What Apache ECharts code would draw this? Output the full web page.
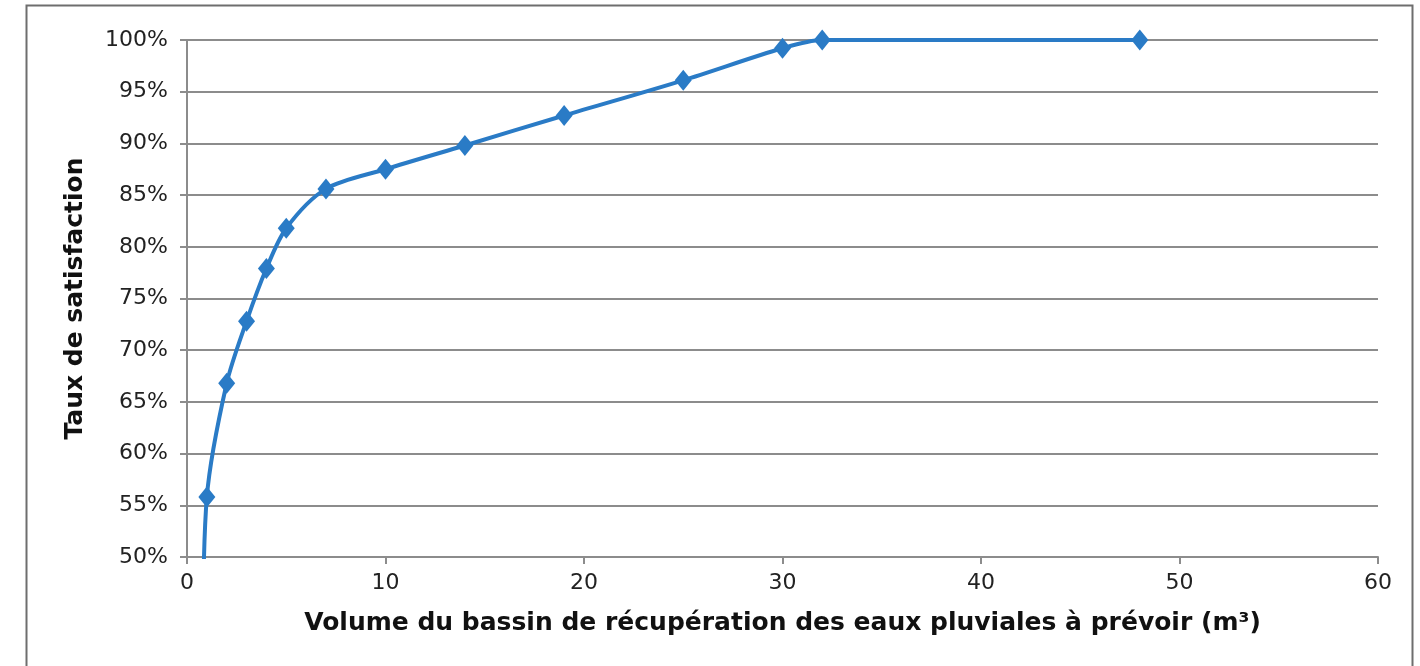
<!DOCTYPE html>
<html>
<head>
<meta charset="utf-8">
<title>Taux de satisfaction</title>
<script src="https://cdn.jsdelivr.net/npm/echarts@6/dist/echarts.min.js"></script>
<style>
  html, body { margin: 0; padding: 0; background: #fff; }
  #chart { width: 1420px; height: 666px; }
</style>
</head>
<body>
<div id="chart"></div>
<script>
  // volume du bassin (m³) et taux de satisfaction (%)
  const volumes = [0.8, 1, 2, 3, 4, 5, 7, 10, 14, 19, 25, 30, 32, 48]
  const taux = [40, 55.8, 66.8, 72.8, 77.9, 81.8, 85.6, 87.5, 89.8, 92.7, 96.1, 99.2, 100, 100]
  const xTicks = [0, 10, 20, 30, 40, 50, 60]
  const yTicks = [50, 55, 60, 65, 70, 75, 80, 85, 90, 95, 100]

  const blue = '#2a7bc6'
  const grey = '#8c8c8c'
  const font = 'DejaVu Sans'

  const chart = echarts.init(document.getElementById('chart'))
  const option = {
    backgroundColor: '#fff',
    animation: false,
    graphic: [
      {
        type: 'rect',
        left: 24, top: 3,
        shape: { width: 1386, height: 700 },
        style: { fill: 'none', stroke: '#6e6e6e', lineWidth: 2 },
        silent: true
      }
    ],
    grid: { left: 187, right: 42, top: 40, bottom: 109 },
    xAxis: {
      type: 'value',
      min: xTicks[0],
      max: xTicks[xTicks.length - 1],
      interval: 10,
      name: 'Volume du bassin de récupération des eaux pluviales à prévoir (m³)',
      nameLocation: 'middle',
      nameGap: 54,
      nameTextStyle: { fontFamily: font, fontWeight: 'bold', fontSize: 25, color: '#111' },
      axisLine: { show: true, lineStyle: { color: grey, width: 2 } },
      axisTick: { show: true, length: 7, lineStyle: { color: grey, width: 2 } },
      axisLabel: { fontFamily: font, fontSize: 22, color: '#222', margin: 15 },
      splitLine: { show: false }
    },
    yAxis: {
      type: 'value',
      min: yTicks[0],
      max: yTicks[yTicks.length - 1],
      interval: 5,
      name: 'Taux de satisfaction',
      nameLocation: 'middle',
      nameGap: 99,
      nameTextStyle: { fontFamily: font, fontWeight: 'bold', fontSize: 25, color: '#111' },
      axisLine: { show: true, lineStyle: { color: grey, width: 2 } },
      axisTick: { show: true, length: 7, lineStyle: { color: grey, width: 2 } },
      axisLabel: { fontFamily: font, fontSize: 22, color: '#222', margin: 19, formatter: '{value}%' },
      splitLine: { show: true, lineStyle: { color: grey, width: 2 } }
    },
    series: [
      {
        type: 'line',
        data: volumes.map((v, i) => [v, taux[i]]),
        smooth: 0.3,
        clip: true,
        symbol: 'diamond',
        symbolSize: [17, 21],
        lineStyle: { color: blue, width: 4 },
        itemStyle: { color: blue },
        z: 3
      }
    ]
  }
  chart.setOption(option)
</script>
</body>
</html>
